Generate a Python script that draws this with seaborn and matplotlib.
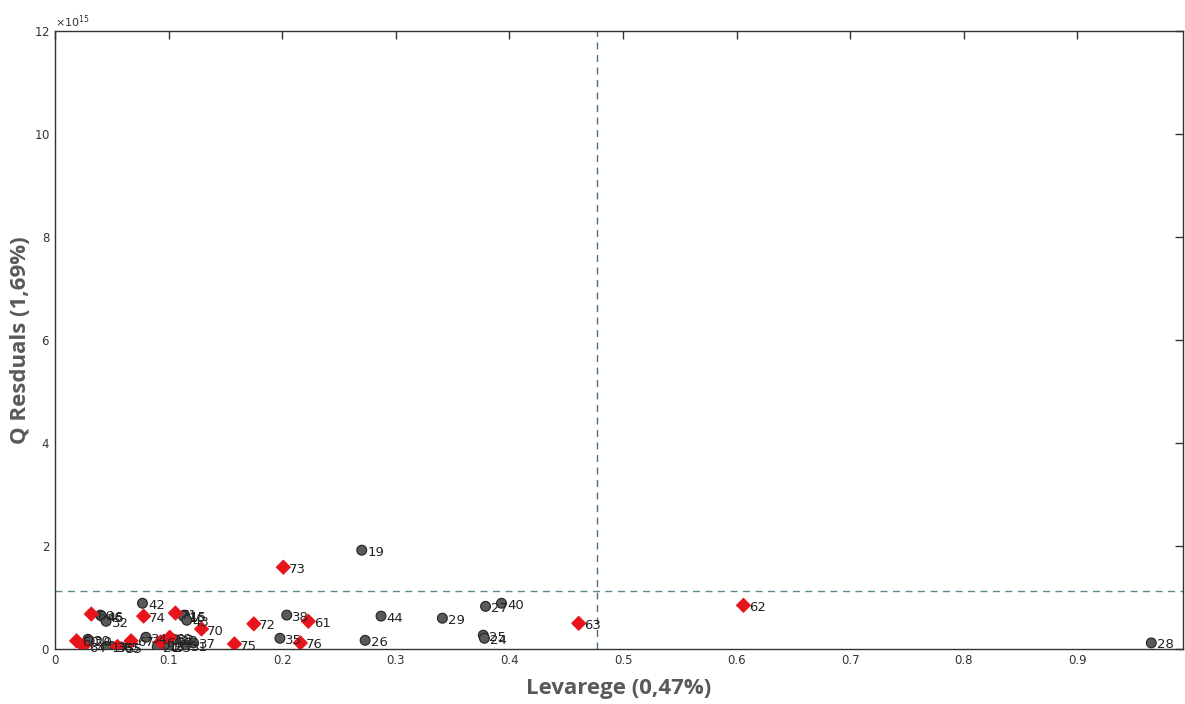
import numpy as np
import pandas as pd
import matplotlib
matplotlib.use("Agg")
import matplotlib.pyplot as plt
import seaborn as sns
from matplotlib.ticker import ScalarFormatter

# --- data (leverage, Q residuals) ---
gray_labels = ["19", "40", "27", "29", "25", "24", "28", "44", "26", "38", "35",
               "42", "15", "16", "43", "46", "45", "32", "30", "20", "34", "33",
               "22", "37", "31", "18", "36", "17", "55", "21", "23"]
gray_lev = [0.270, 0.393, 0.379, 0.341, 0.377, 0.378, 0.965, 0.287, 0.273, 0.204, 0.198,
            0.077, 0.114, 0.113, 0.116, 0.040, 0.041, 0.045, 0.029, 0.030, 0.080, 0.103,
            0.106, 0.122, 0.115, 0.095, 0.050, 0.045, 0.058, 0.090, 0.100]
gray_q = [1.92e15, 0.89e15, 0.83e15, 0.60e15, 0.27e15, 0.21e15, 0.12e15, 0.64e15, 0.17e15, 0.66e15, 0.21e15,
          0.89e15, 0.66e15, 0.64e15, 0.56e15, 0.66e15, 0.64e15, 0.54e15, 0.19e15, 0.16e15, 0.23e15, 0.20e15,
          0.18e15, 0.12e15, 0.08e15, 0.08e15, 0.05e15, 0.05e15, 0.04e15, 0.05e15, 0.06e15]

red_labels = ["73", "63", "62", "61", "72", "76", "75", "70", "74", "71", "66",
              "60", "64", "65", "67", "68", "69"]
red_lev = [0.201, 0.461, 0.606, 0.223, 0.175, 0.216, 0.158, 0.129, 0.078, 0.106, 0.032,
           0.019, 0.025, 0.055, 0.067, 0.101, 0.093]
red_q = [1.59e15, 0.50e15, 0.85e15, 0.54e15, 0.49e15, 0.12e15, 0.10e15, 0.39e15, 0.64e15, 0.70e15, 0.68e15,
         0.16e15, 0.06e15, 0.05e15, 0.16e15, 0.23e15, 0.14e15]

lev_limit = 0.477
q_limit = 1.126e15

xlabel = "Levarege (0,47%)"
ylabel = "Q Resduals (1,69%)"

df = pd.DataFrame({
    "lev": gray_lev + red_lev,
    "q": gray_q + red_q,
    "label": gray_labels + red_labels,
    "group": ["cal"] * len(gray_lev) + ["val"] * len(red_lev),
})

sns.set_style("white")
plt.rcParams["font.family"] = ["DejaVu Sans"]

fig = plt.figure(figsize=(11.85, 7.04), dpi=100)
ax = fig.add_axes([0.0464, 0.078, 0.952, 0.878])

sns.scatterplot(data=df, x="lev", y="q", hue="group", style="group",
                palette={"cal": "#5a5a5a", "val": "#e8141b"},
                markers={"cal": "o", "val": "D"},
                s=50, edgecolor=None, ax=ax, legend=False, zorder=3)
coll = ax.collections[0]
ec = ["#222222" if g == "cal" else "#e8141b" for g in df["group"]]
coll.set_edgecolors(ec)
coll.set_linewidths(0.8)

for _, r in df.iterrows():
    ax.annotate(r["label"], (r["lev"], r["q"]), xytext=(4, -1.5), textcoords="offset points",
                fontsize=9.5, color="#222222", va="center", ha="left", zorder=4)

ax.axvline(lev_limit, color="#4a6d8c", ls=(0, (5, 4)), lw=1.0, zorder=2)
ax.axhline(q_limit, color="#5e8a8f", ls=(0, (5, 4)), lw=1.0, zorder=2)

ax.set_xlim(0, 0.993)
ax.set_ylim(0, 12e15)
ax.set_xticks(np.arange(0, 1.0, 0.1))
ax.set_xticklabels(["0", "0.1", "0.2", "0.3", "0.4", "0.5", "0.6", "0.7", "0.8", "0.9"])
ax.set_yticks(np.arange(0, 13e15, 2e15))
fmt = ScalarFormatter(useMathText=True)
fmt.set_powerlimits((15, 15))
ax.yaxis.set_major_formatter(fmt)
ax.yaxis.get_offset_text().set_fontsize(8)
ax.yaxis.get_offset_text().set_color("#333333")

ax.tick_params(axis="both", which="both", direction="in", length=6, width=1,
               top=True, right=True, labelsize=8.5, labelcolor="#333333", color="#333333")
for sp in ax.spines.values():
    sp.set_color("#333333")
    sp.set_linewidth(1.0)

ax.set_xlabel(xlabel, fontsize=16, fontweight="bold", color="#595959",
              family=["Open Sans", "DejaVu Sans"], labelpad=8)
ax.set_ylabel(ylabel, fontsize=16, fontweight="bold", color="#595959",
              family=["Open Sans", "DejaVu Sans"], labelpad=2)

fig.savefig("out.png", dpi=100)
